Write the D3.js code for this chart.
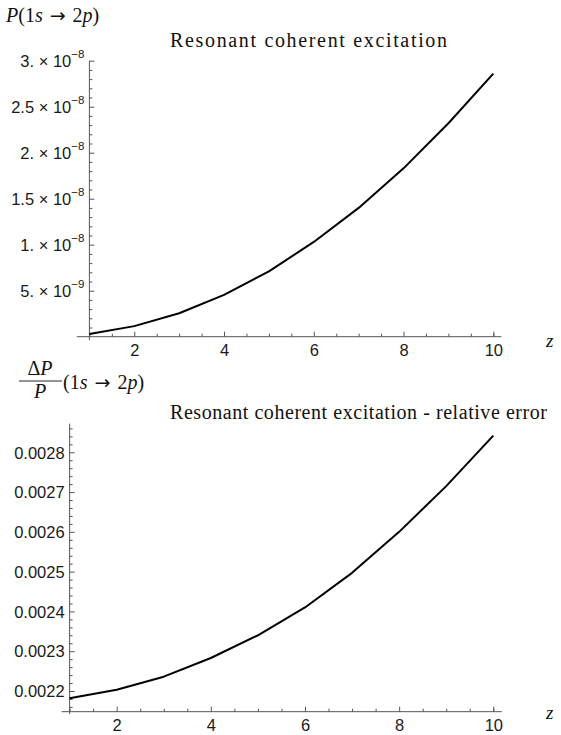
<!DOCTYPE html>
<html>
<head>
<meta charset="utf-8">
<script src="https://cdn.jsdelivr.net/npm/d3@7"></script>
<style>
  html, body { margin: 0; padding: 0; background: #fff; }
  svg { display: block; }
  .tick text { font-family: "Liberation Sans", Arial, sans-serif; font-size: 16.5px; fill: #1a1a1a; }
  .serif { font-family: "Liberation Serif", "DejaVu Serif", serif; fill: #111; }
  .arrow { font-family: "DejaVu Sans", sans-serif; }
</style>
</head>
<body>
<svg id="chart" width="561" height="735"></svg>
<script>
// Nuclear charge z
const zValues = [1, 2, 3, 4, 5, 6, 7, 8, 9, 10];

// Excitation probability P(1s -> 2p)
const probability = [0.30e-9, 1.15e-9, 2.55e-9, 4.55e-9, 7.10e-9, 10.3e-9, 14.0e-9, 18.3e-9, 23.2e-9, 28.6e-9];

// Relative error dP/P
const relError = [0.002182, 0.002203, 0.002236, 0.002283, 0.002340, 0.002410, 0.002497, 0.002600, 0.002715, 0.002842];

// Tick values and labels
const xMajorTicks = [2, 4, 6, 8, 10];
const xMinorTicks = [1, 1.5, 2.5, 3, 3.5, 4.5, 5, 5.5, 6.5, 7, 7.5, 8.5, 9, 9.5, 10];
const topYTicks = [5e-9, 1e-8, 1.5e-8, 2e-8, 2.5e-8, 3e-8];
const topYMantissa = ["5.", "1.", "1.5", "2.", "2.5", "3."];
const topYExponent = ["\u22129", "\u22128", "\u22128", "\u22128", "\u22128", "\u22128"];
const bottomYTicks = [0.0022, 0.0023, 0.0024, 0.0025, 0.0026, 0.0027, 0.0028];
const bottomYLabels = ["0.0022", "0.0023", "0.0024", "0.0025", "0.0026", "0.0027", "0.0028"];

const svg = d3.select("#chart");
const axisColor = "#555";

function drawPanel(cfg) {
  const g = svg.append("g");
  const x = d3.scaleLinear().domain([1, 10]).range(cfg.xRange);
  const y = d3.scaleLinear().domain(cfg.yDomain).range(cfg.yRange);

  // axis lines, crossing at (1, axis origin)
  g.append("line")
    .attr("x1", x(cfg.xExtent[0])).attr("x2", x(cfg.xExtent[1]))
    .attr("y1", y(cfg.yOrigin)).attr("y2", y(cfg.yOrigin))
    .attr("stroke", axisColor).attr("stroke-width", 1);
  g.append("line")
    .attr("x1", x(1)).attr("x2", x(1))
    .attr("y1", y(cfg.yExtent[0])).attr("y2", y(cfg.yExtent[1]))
    .attr("stroke", axisColor).attr("stroke-width", 1);

  // x axis: ticks point up, labels below
  const xMinor = g.append("g").attr("transform", `translate(0,${y(cfg.yOrigin)})`)
    .call(d3.axisBottom(x).tickValues(xMinorTicks).tickSizeInner(-3).tickSizeOuter(0).tickFormat(""));
  const xMajor = g.append("g").attr("transform", `translate(0,${y(cfg.yOrigin)})`)
    .call(d3.axisBottom(x).tickValues(xMajorTicks).tickSizeInner(-5).tickSizeOuter(0).tickPadding(8).tickFormat(d3.format("d")));
  [xMinor, xMajor].forEach(a => {
    a.select(".domain").remove();
    a.selectAll(".tick line").attr("stroke", axisColor);
  });
  xMajor.selectAll(".tick text").attr("dy", "0.68em");

  // y axis: ticks point right, labels left
  const yMinor = g.append("g").attr("transform", `translate(${x(1)},0)`)
    .call(d3.axisLeft(y).tickValues(cfg.yMinor).tickSizeInner(-3).tickSizeOuter(0).tickFormat(""));
  const yMajor = g.append("g").attr("transform", `translate(${x(1)},0)`)
    .call(d3.axisLeft(y).tickValues(cfg.yTicks).tickSizeInner(-5).tickSizeOuter(0).tickPadding(5).tickFormat(""));
  [yMinor, yMajor].forEach(a => {
    a.select(".domain").remove();
    a.selectAll(".tick line").attr("stroke", axisColor);
  });
  yMajor.selectAll(".tick text").each(function (d, i) { cfg.labeler(d3.select(this), i); });

  // data curve
  const line = d3.line().x(d => x(d[0])).y(d => y(d[1]));
  g.append("path")
    .datum(zValues.map((z, i) => [z, cfg.values[i]]))
    .attr("d", line)
    .attr("fill", "none").attr("stroke", "#000").attr("stroke-width", 2)
    .attr("stroke-linejoin", "round");

  // z label at the end of the x axis
  g.append("text").attr("class", "serif")
    .attr("x", cfg.zLabel[0]).attr("y", cfg.zLabel[1])
    .attr("font-size", 19).attr("font-style", "italic").text("z");

  // title
  g.append("text").attr("class", "serif")
    .attr("x", cfg.title.x).attr("y", cfg.title.y)
    .attr("font-size", 20).attr("textLength", cfg.title.w).attr("lengthAdjust", "spacing")
    .text(cfg.title.text);
  return g;
}

// "(1s -> 2p)" with italic symbols
function processLabel(text) {
  text.append("tspan").text("(1");
  text.append("tspan").attr("font-style", "italic").text("s");
  text.append("tspan").attr("class", "arrow").attr("dx", 7).attr("font-size", 19).text("\u2192");
  text.append("tspan").attr("dx", 7).text("2");
  text.append("tspan").attr("font-style", "italic").text("p");
  text.append("tspan").text(")");
}

drawPanel({
  xRange: [89.4, 493.3],
  yDomain: [0, 3e-8],
  yRange: [336.7, 60.7],
  xExtent: [0.72, 10.18],
  yExtent: [-0.38e-9, 3e-8],
  yOrigin: 0,
  yTicks: topYTicks,
  yMinor: d3.range(1, 30).map(k => k * 1e-9).filter(v => Math.round(v / 1e-9) % 5 !== 0),
  values: probability,
  zLabel: [546, 347],
  title: { x: 170, y: 47, w: 277, text: "Resonant coherent excitation" },
  labeler: (t, i) => {
    t.text(null).attr("dy", "0.35em");
    t.append("tspan").text(topYMantissa[i] + " \u00d7 10");
    t.append("tspan").attr("font-size", 11.5).attr("dy", "-0.75em").text(topYExponent[i]);
  }
});

drawPanel({
  xRange: [69.6, 493.3],
  yDomain: [0.0022, 0.0028],
  yRange: [691, 452.3],
  xExtent: [0.83, 10.18],
  yExtent: [0.002142, 0.002872],
  yOrigin: 0.002148,
  yTicks: bottomYTicks,
  yMinor: d3.range(108, 144).map(k => k * 0.00002).filter(v => Math.round(v / 0.00002) % 5 !== 0),
  values: relError,
  zLabel: [546, 719],
  title: { x: 170, y: 419, w: 377, text: "Resonant coherent excitation - relative error" },
  labeler: (t, i) => { t.text(bottomYLabels[i]).attr("dy", "0.35em"); }
});

// y-axis label of the upper panel: P(1s -> 2p)
const topLabel = svg.append("text").attr("class", "serif")
  .attr("x", 6).attr("y", 22).attr("font-size", 20);
topLabel.append("tspan").attr("font-style", "italic").text("P");
processLabel(topLabel);

// y-axis label of the lower panel: (dP / P)(1s -> 2p)
svg.append("text").attr("class", "serif")
  .attr("x", 40).attr("y", 375).attr("font-size", 20).attr("text-anchor", "middle")
  .call(t => {
    t.append("tspan").text("\u0394");
    t.append("tspan").attr("font-style", "italic").text("P");
  });
svg.append("line").attr("x1", 19).attr("x2", 62).attr("y1", 381).attr("y2", 381)
  .attr("stroke", "#111").attr("stroke-width", 0.9);
svg.append("text").attr("class", "serif")
  .attr("x", 40).attr("y", 398).attr("font-size", 20).attr("text-anchor", "middle")
  .attr("font-style", "italic").text("P");
const bottomLabel = svg.append("text").attr("class", "serif")
  .attr("x", 63).attr("y", 389).attr("font-size", 20);
processLabel(bottomLabel);
</script>
</body>
</html>
